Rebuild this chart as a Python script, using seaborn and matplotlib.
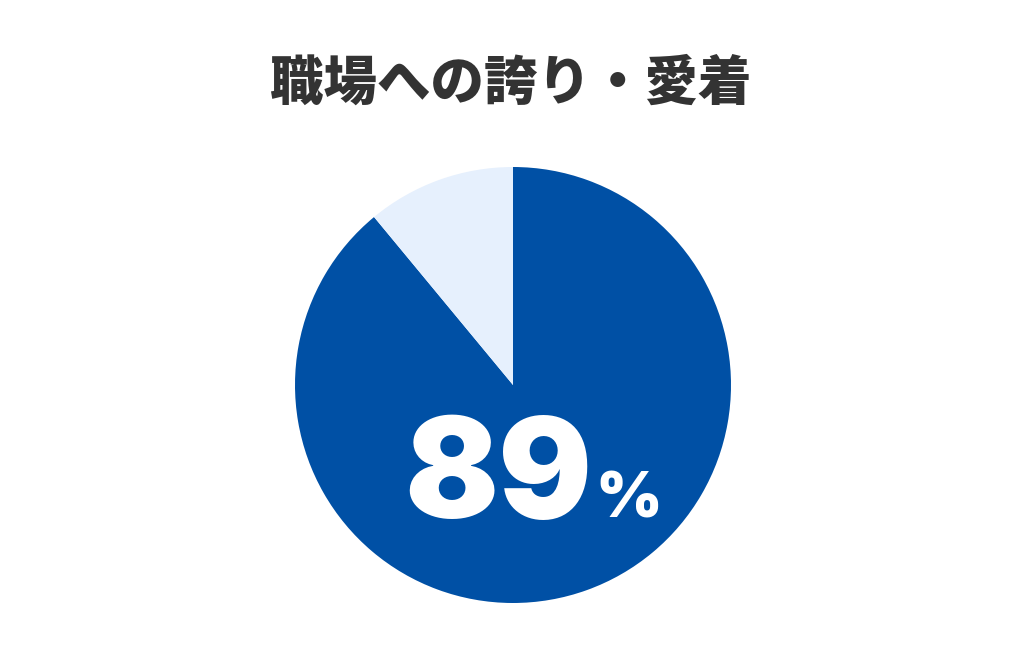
import matplotlib
matplotlib.use("Agg")
import matplotlib.pyplot as plt
import seaborn as sns

# data
labels = ["誇り・愛着あり", "その他"]
values = [89, 11]
colors = ["#0050A5", "#E6F0FD"]
title = "職場への誇り・愛着"
main_value = "89"
unit = "%"

sns.set_theme(style="white")
plt.rcParams['font.family'] = ['Noto Sans CJK JP', 'DejaVu Sans']

W, H = 1024, 657
fig = plt.figure(figsize=(W / 100, H / 100), dpi=100)
fig.patch.set_facecolor("white")

# pie axes, square in pixels
cx, cy, r = 513, 385, 218
ax = fig.add_axes([(cx - r) / W, (H - cy - r) / H, 2 * r / W, 2 * r / H])
ax.pie(values, colors=colors, startangle=90, counterclock=False, radius=1,
       wedgeprops=dict(linewidth=0))
ax.set_xlim(-1, 1)
ax.set_ylim(-1, 1)
ax.axis("off")

fig.text(511 / W, 1 - 84 / H, title, ha="center", va="center", fontsize=38.5,
         fontweight="heavy", color="#333333")

fig.text(592 / W, 1 - 518 / H, main_value, ha="right", va="baseline",
         fontsize=100, fontweight="black", color="white",
         family=["Inter", "DejaVu Sans"])
fig.text(595 / W, 1 - 518 / H, unit, ha="left", va="baseline",
         fontsize=46, fontweight="black", color="white",
         family=["Inter", "DejaVu Sans"])

fig.savefig("out.png", dpi=100, facecolor="white")
